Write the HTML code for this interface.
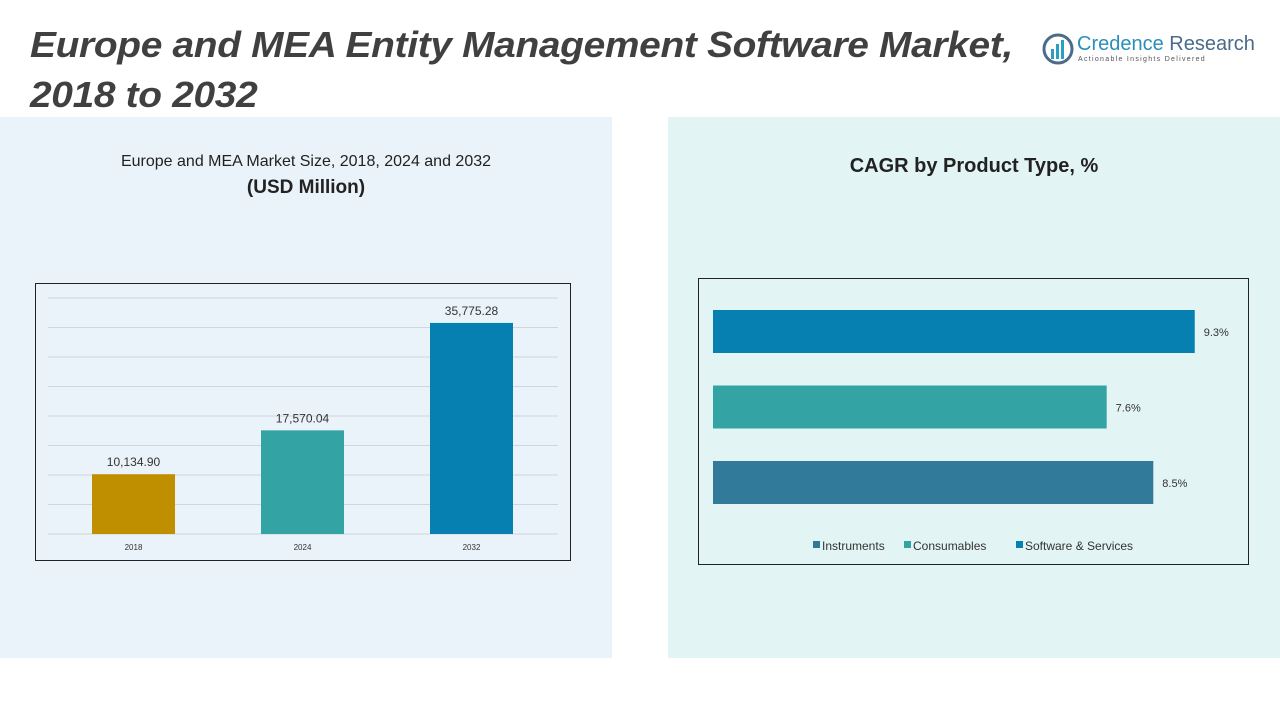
<!DOCTYPE html>
<html><head><meta charset="utf-8"><style>
body{margin:0;width:1280px;height:720px;overflow:hidden;background:#fff;font-family:"Liberation Sans",sans-serif;position:relative}
.abs{position:absolute}
</style></head><body>
<div class="abs" style="left:0;top:117px;width:612px;height:541px;background:#eaf3f9"></div>
<div class="abs" style="left:668px;top:117px;width:612px;height:541px;background:#e3f4f4"></div>
<div class="abs" style="left:30px;top:20px;font-size:36px;font-weight:bold;font-style:italic;color:#404040;line-height:50px;letter-spacing:-0.3px;transform:scaleX(1.08);transform-origin:left top;white-space:nowrap">Europe and MEA Entity Management Software Market,<br>2018 to 2032</div>
<div class="abs" style="left:1042px;top:33px;width:210px;height:34px">
<svg width="32" height="32" style="position:absolute;left:0;top:0"><circle cx="16" cy="16" r="14" fill="none" stroke="#4a6b8a" stroke-width="3"/><rect x="9" y="16" width="3" height="10" fill="#2a9fc0"/><rect x="14" y="11" width="3" height="15" fill="#2a9fc0"/><rect x="19" y="7" width="3" height="19" fill="#2a9fc0"/></svg>
<div class="abs" style="left:35px;top:0;font-size:20px;color:#2a8fb8;white-space:nowrap">Credence <span style="color:#4a6b8a">Research</span></div>
<div class="abs" style="left:36px;top:23px;font-size:7px;color:#555;letter-spacing:1.3px;white-space:nowrap">Actionable Insights Delivered</div>
</div>
<div class="abs" style="left:0;width:612px;top:153px;text-align:center;font-size:16px;color:#222">Europe and MEA Market Size, 2018, 2024 and 2032</div>
<div class="abs" style="left:0;width:612px;top:177px;text-align:center;font-size:19px;font-weight:bold;color:#222">(USD Million)</div>
<div class="abs" style="left:668px;width:612px;top:155px;text-align:center;font-size:20px;font-weight:bold;color:#222">CAGR by Product Type, %</div>
<svg class="abs" style="left:0;top:0" width="1280" height="720" id="charts">
<rect x="35.5" y="283.5" width="535" height="277" fill="none" stroke="#222" stroke-width="1"/>
<rect x="698.5" y="278.5" width="550" height="286" fill="none" stroke="#222" stroke-width="1"/>
</svg>
<script>
const years=["2018","2024","2032"];
const marketValues=[10134.90,17570.04,35775.28];
const valueLabels=["10,134.90","17,570.04","35,775.28"];
const barColors=["#c08f00","#34a3a3","#0580b0"];
const segments=["Software & Services","Consumables","Instruments"];
const cagrValues=[9.3,7.6,8.5];
const cagrLabels=["9.3%","7.6%","8.5%"];
const segColors=["#0580b0","#34a3a3","#327a9a"];
const legendItems=["Instruments","Consumables","Software & Services"];
const legendColors=["#327a9a","#34a3a3","#0580b0"];
const gridTicks=[0,5000,10000,15000,20000,25000,30000,35000,40000];
const NS="http://www.w3.org/2000/svg";
const svg=document.getElementById('charts');
function mk(t,a){const e=document.createElementNS(NS,t);for(const k in a)e.setAttribute(k,a[k]);svg.appendChild(e);return e;}
const y0=534,yTop=298;
const ys=v=>y0-(v/40000)*(y0-yTop);
gridTicks.forEach(t=>{const l=mk('line',{x1:48,x2:558,y1:ys(t),y2:ys(t),stroke:'#cfd6dc','stroke-width':1});

});
const xs=i=>92+i*169;
years.forEach((y,i)=>{
const b=mk('rect',{x:xs(i),y:ys(marketValues[i]),width:83,height:y0-ys(marketValues[i]),fill:barColors[i]});


const v=mk('text',{x:xs(i)+41.5,y:ys(marketValues[i])-8,'text-anchor':'middle','font-size':12,fill:'#333','font-family':'Liberation Sans'});v.textContent=valueLabels[i];


const t=mk('text',{x:xs(i)+41.5,y:550,'text-anchor':'middle','font-size':8,fill:'#333','font-family':'Liberation Sans'});t.textContent=y;


});
const hx0=713,pxPer=51.8;
segments.forEach((s,i)=>{
const y=310+i*75.5;
const w=cagrValues[i]*pxPer;
const b=mk('rect',{x:hx0,y:y,width:w,height:43,fill:segColors[i]});


const t=mk('text',{x:hx0+w+9,y:y+26,'font-size':11,fill:'#333','font-family':'Liberation Sans'});t.textContent=cagrLabels[i];


});
const lx=[813,904,1016];
legendItems.forEach((s,i)=>{
const r=mk('rect',{x:lx[i],y:541,width:7,height:7,fill:legendColors[i]});


const t=mk('text',{x:lx[i]+9,y:550,'font-size':12,fill:'#333','font-family':'Liberation Sans'});t.textContent=s;


});
</script>
</body></html>
